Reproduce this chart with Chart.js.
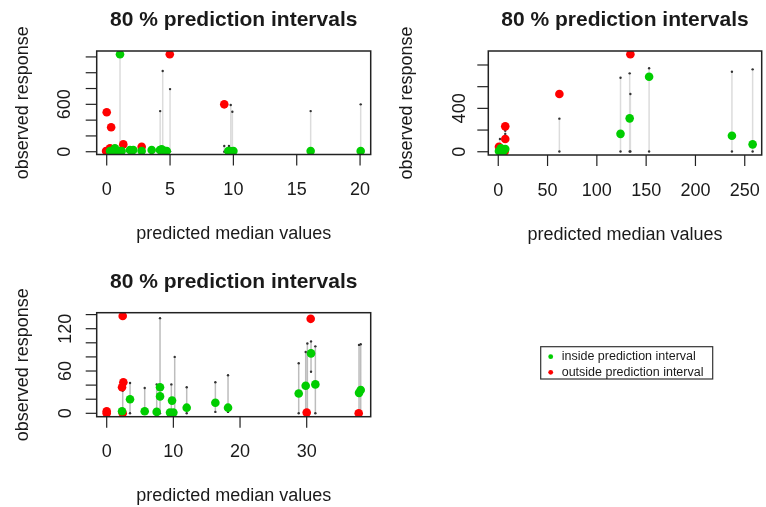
<!DOCTYPE html>
<html>
<head>
<meta charset="utf-8">
<script src="https://cdn.jsdelivr.net/npm/chart.js@4.4.1/dist/chart.umd.min.js"></script>
<style>
  html, body { margin: 0; padding: 0; background: #fff; }
  #wrap { position: relative; width: 766px; height: 507px; overflow: hidden; }
  canvas { position: absolute; }
</style>
</head>
<body>
<div id="wrap">
  <canvas id="c1" width="383" height="253" style="left:0;top:0"></canvas>
  <canvas id="c2" width="383" height="253" style="left:383px;top:0"></canvas>
  <canvas id="c3" width="766" height="254" style="left:0;top:253px"></canvas>
</div>
<script>
// top left panel
const p1GreenX = [0.26, 0.39, 0.65, 0.92, 1.18, 1.05, 1.84, 2.1, 2.76, 3.55, 4.2, 4.34, 4.6, 4.74, 9.6, 9.73, 10.0, 16.1, 20.05]
const p1GreenY = [9, 9, 43, 9, 9, 1233, 21, 21, 9, 22, 21, 30, 9, 9, 9, 9, 9, 9, 9]
const p1RedX = [-0.05, 0.26, 0.73, 0.0, 0.35, 1.31, 2.76, 4.98, 9.28]
const p1RedY = [9, 43, 9, 500, 310, 93, 63, 1233, 600]
const p1IntX = [1.05, 4.22, 4.42, 5.0, 9.28, 9.65, 9.79, 9.92, 16.1, 20.05]
const p1IntLo = [40, 5, 5, 5, 0, 0, 0, 0, 0, 0]
const p1IntHi = [1245, 514, 1021, 793, 72, 72, 591, 506, 514, 600]
const p1XTicks = [0, 5, 10, 15, 20]
const p1YTicks = [0, 200, 400, 600, 800, 1000, 1200]
const p1YLabels = [0, 600]

// top right panel
const p2GreenX = [0.7, 2.7, 5.1, 7.1, 124, 133.3, 153, 237, 258]
const p2GreenY = [6, 31, 6, 25, 165, 308, 692, 148, 68]
const p2RedX = [0.7, 7.1, 7.1, 6.5, 62, 134]
const p2RedY = [46, 117, 234, 3, 532, 899]
const p2IntX = [1.7, 7.1, 62, 124, 133.3, 134, 153, 237, 258]
const p2IntLo = [0, 163, 2, 2, 2, 2, 2, 2, 2]
const p2IntHi = [117, 194, 305, 683, 723, 532, 770, 738, 760]
const p2XTicks = [0, 50, 100, 150, 200, 250]
const p2YTicks = [0, 200, 400, 600, 800]
const p2YLabels = [0, 400]

// bottom panel
const p3GreenX = [2.3, 3.5, 5.7, 7.5, 8.0, 8.0, 9.5, 9.8, 10.0, 12.0, 16.3, 18.2, 28.8, 29.85, 30.65, 31.3, 37.85, 38.1]
const p3GreenY = [3, 20, 3, 2, 37, 24, 1, 18, 1, 8, 15, 8, 28, 39, 85, 41, 29, 33]
const p3RedX = [0, 0, 2.3, 2.4, 2.5, 2.4, 30.0, 30.6, 37.8]
const p3RedY = [0, 3, 37, 0, 44, 138, 1, 134, 0]
const p3IntX = [2.4, 3.5, 5.7, 7.5, 8.0, 9.7, 10.2, 12.0, 16.3, 18.2, 28.8, 29.85, 30.1, 30.65, 31.3, 37.85, 38.1]
const p3IntLo = [0, 0, 0, 0, 0, 0, 0, 0, 2, 2, 0, 0, 0, 59, 0, 0, 0]
const p3IntHi = [32, 43, 36, 41, 135, 41, 80, 37, 44, 54, 71, 87, 99, 102, 95, 97, 98]
const p3XTicks = [0, 10, 20, 30]
const p3YTicks = [0, 20, 40, 60, 80, 100, 120, 140]
const p3YLabels = [0, 60, 120]

const titleText = "80 % prediction intervals"
const xTitleText = "predicted median values"
const yTitleText = "observed response"
const legendLabels = ["inside prediction interval", "outside prediction interval"]

const FONT = '"Liberation Sans", Arial, Helvetica, sans-serif'
const GREEN = "#00cd00"
const RED = "#ff0000"

// R style box, ticks and titles drawn on top of the chart
const rFrame = {
  id: "rframe",
  afterDraw(chart, args, o) {
    const { ctx, chartArea: a } = chart
    const x = chart.scales.x
    const y = chart.scales.y
    ctx.save()
    ctx.strokeStyle = "#222"
    ctx.fillStyle = "#1a1a1a"
    ctx.lineWidth = 1.5
    ctx.strokeRect(a.left, a.top, a.right - a.left, a.bottom - a.top)

    ctx.lineWidth = 1.2
    ctx.font = "18px " + FONT
    ctx.textAlign = "center"
    ctx.textBaseline = "alphabetic"
    o.xTicks.forEach(v => {
      const px = x.getPixelForValue(v)
      ctx.beginPath()
      ctx.moveTo(px, a.bottom)
      ctx.lineTo(px, a.bottom + 11)
      ctx.stroke()
      ctx.fillText(String(v), px, a.bottom + 40.5)
    })
    o.yTicks.forEach(v => {
      const py = y.getPixelForValue(v)
      ctx.beginPath()
      ctx.moveTo(a.left - 11, py)
      ctx.lineTo(a.left, py)
      ctx.stroke()
      if (o.yLabels.includes(v)) {
        ctx.save()
        ctx.translate(a.left - o.yLabelGap, py)
        ctx.rotate(-Math.PI / 2)
        ctx.fillText(String(v), 0, 0)
        ctx.restore()
      }
    })

    ctx.fillText(xTitleText, (a.left + a.right) / 2, a.bottom + 84.5)
    ctx.save()
    ctx.translate(a.left - o.yTitleGap, (a.top + a.bottom) / 2)
    ctx.rotate(-Math.PI / 2)
    ctx.fillText(yTitleText, 0, 0)
    ctx.restore()

    ctx.font = "bold 21px " + FONT
    ctx.fillText(titleText, (a.left + a.right) / 2, a.top - 25)

    if (o.legend) {
      const lx = 540.7, ly = 93.7
      ctx.lineWidth = 1.2
      ctx.strokeStyle = "#333"
      ctx.strokeRect(lx, ly, 172, 32.3)
      ctx.font = "12.5px " + FONT
      ctx.textAlign = "left"
      ctx.textBaseline = "middle";
      [GREEN, RED].forEach((c, i) => {
        const cy = ly + 10 + i * 15.6
        ctx.fillStyle = c
        ctx.beginPath()
        ctx.arc(lx + 10, cy, 2.4, 0, Math.PI * 2)
        ctx.fill()
        ctx.fillStyle = "#1a1a1a"
        ctx.fillText(legendLabels[i], lx + 21, cy)
      })
    }
    ctx.restore()
  }
}

function pts(xs, ys) {
  return xs.map((x, i) => ({ x, y: ys[i] }))
}

function segs(xs, lo, hi) {
  return xs.flatMap((x, i) => [{ x, y: lo[i] }, { x, y: hi[i] }, { x, y: null }])
}

function panel(id, p) {
  return new Chart(document.getElementById(id), {
    type: "scatter",
    data: {
      datasets: [
        {
          data: pts(p.greenX, p.greenY),
          backgroundColor: GREEN,
          borderWidth: 0,
          pointRadius: 4.3,
          order: 0
        },
        {
          data: pts(p.redX, p.redY),
          backgroundColor: RED,
          borderWidth: 0,
          pointRadius: 4.3,
          order: 1
        },
        {
          data: segs(p.intX, p.intLo, p.intHi),
          showLine: true,
          borderColor: p.lineColor,
          borderWidth: 1.5,
          pointRadius: 1.2,
          pointBackgroundColor: "#333",
          pointBorderWidth: 0,
          spanGaps: false,
          order: 2
        }
      ]
    },
    options: {
      responsive: false,
      devicePixelRatio: 1,
      animation: false,
      layout: { padding: p.pad },
      scales: {
        x: { type: "linear", min: p.xMin, max: p.xMax, display: false },
        y: { type: "linear", min: p.yMin, max: p.yMax, display: false }
      },
      plugins: {
        legend: { display: false },
        tooltip: { enabled: false },
        rframe: {
          xTicks: p.xTicks,
          yTicks: p.yTicks,
          yLabels: p.yLabels,
          yLabelGap: p.yLabelGap,
          yTitleGap: p.yTitleGap,
          legend: !!p.legend
        }
      }
    },
    plugins: [rFrame]
  })
}

panel("c1", {
  greenX: p1GreenX, greenY: p1GreenY, redX: p1RedX, redY: p1RedY,
  intX: p1IntX, intLo: p1IntLo, intHi: p1IntHi,
  xTicks: p1XTicks, yTicks: p1YTicks, yLabels: p1YLabels,
  xMin: -0.79, xMax: 20.84, yMin: -35, yMax: 1275,
  pad: { left: 96.7, top: 51, right: 12.3, bottom: 98.5 },
  yLabelGap: 26.7, yTitleGap: 68.7, lineColor: "#dcdcdc"
})

panel("c2", {
  greenX: p2GreenX, greenY: p2GreenY, redX: p2RedX, redY: p2RedY,
  intX: p2IntX, intLo: p2IntLo, intHi: p2IntHi,
  xTicks: p2XTicks, yTicks: p2YTicks, yLabels: p2YLabels,
  xMin: -10.1, xMax: 267.2, yMin: -30, yMax: 929,
  pad: { left: 105.3, top: 51, right: 3.7, bottom: 98 },
  yLabelGap: 23, yTitleGap: 76.6, lineColor: "#dcdcdc"
})

panel("c3", {
  greenX: p3GreenX, greenY: p3GreenY, redX: p3RedX, redY: p3RedY,
  intX: p3IntX, intLo: p3IntLo, intHi: p3IntHi,
  xTicks: p3XTicks, yTicks: p3YTicks, yLabels: p3YLabels,
  xMin: -1.5, xMax: 39.6, yMin: -4.8, yMax: 142.7,
  pad: { left: 96.7, top: 59.7, right: 395.3, bottom: 90.3 },
  yLabelGap: 26, yTitleGap: 68.4, lineColor: "#bdbdbd",
  legend: true
})
</script>
</body>
</html>
